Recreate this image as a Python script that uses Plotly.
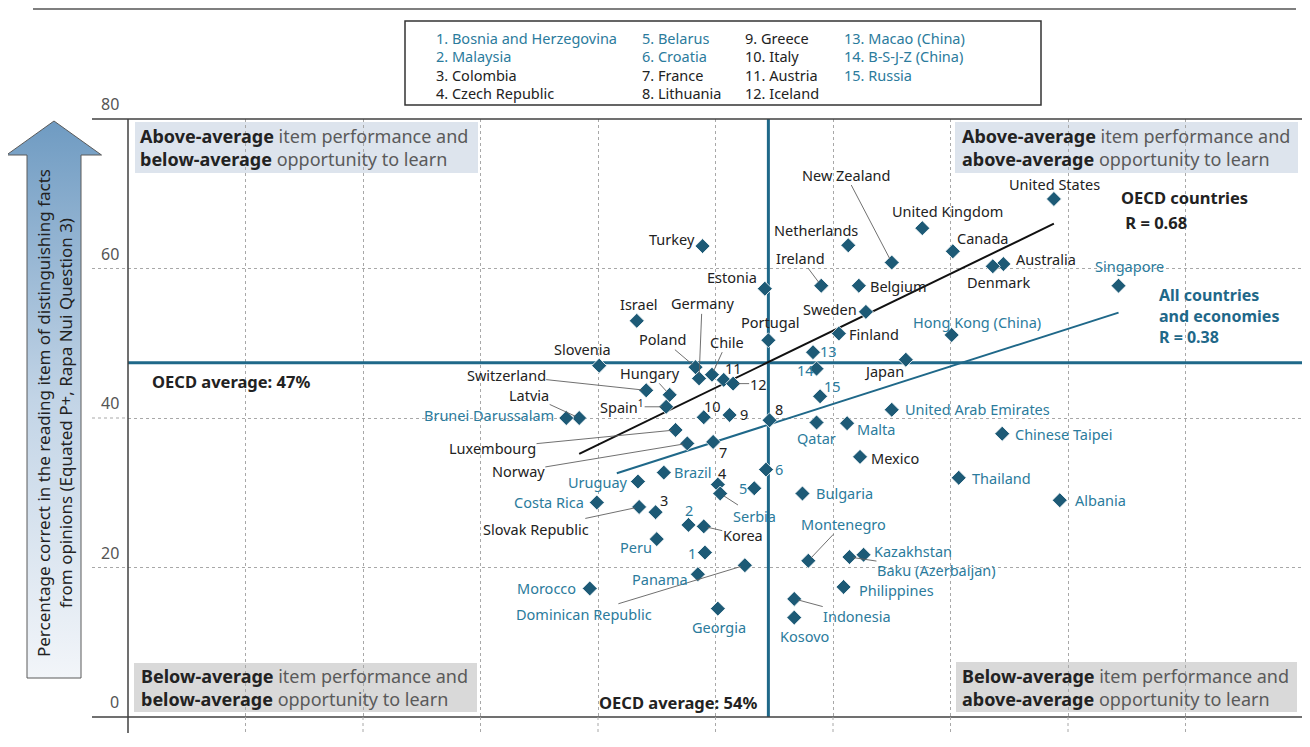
import plotly.graph_objects as go

# ---------------- data ----------------
countries = [
    "United States", "United Kingdom", "New Zealand", "Netherlands", "Canada",
    "Australia", "Denmark", "Ireland", "Belgium", "Sweden", "Finland", "Japan",
    "Turkey", "Estonia", "Israel", "Portugal", "Germany", "Poland", "Chile",
    "Slovenia", "Switzerland", "Hungary", "Latvia", "Spain", "Luxembourg",
    "Norway", "Mexico", "Slovak Republic", "Korea", "Colombia", "Czech Republic",
    "France", "Lithuania", "Greece", "Italy", "Austria", "Iceland",
    "Singapore", "Hong Kong (China)", "Macao (China)", "B-S-J-Z (China)", "Russia",
    "United Arab Emirates", "Qatar", "Malta", "Chinese Taipei", "Brunei Darussalam",
    "Croatia", "Belarus", "Brazil", "Uruguay", "Serbia", "Bulgaria", "Thailand",
    "Albania", "Costa Rica", "Malaysia", "Peru", "Bosnia and Herzegovina",
    "Montenegro", "Kazakhstan", "Baku (Azerbaijan)", "Dominican Republic",
    "Panama", "Philippines", "Morocco", "Indonesia", "Georgia", "Kosovo",
]
# x: opportunity to learn (%), y: percentage correct
otl = [
    78.8, 67.6, 65.0, 61.3, 70.2,
    74.5, 73.6, 59.0, 62.2, 62.8, 60.5, 66.2,
    48.9, 54.2, 43.3, 54.5, 48.6, 48.3, 49.7,
    40.1, 44.1, 46.1, 38.4, 45.8, 46.6,
    47.6, 62.3, 43.5, 49.0, 44.9, 50.2,
    49.8, 54.6, 51.2, 49.0, 50.7, 51.5,
    84.3, 70.1, 58.3, 58.6, 58.9,
    65.0, 58.6, 61.2, 74.4, 37.3,
    54.3, 53.3, 45.6, 43.4, 50.4, 57.4, 70.7,
    79.3, 39.9, 47.7, 45.0, 49.1,
    57.9, 62.6, 61.4, 52.5,
    48.5, 60.9, 39.3, 56.7, 50.2, 56.7,
]
perf = [
    69.3, 65.4, 60.8, 63.1, 62.3,
    60.6, 60.3, 57.7, 57.7, 54.2, 51.3, 47.8,
    63.0, 57.3, 53.0, 50.4, 45.3, 46.8, 45.8,
    47.0, 43.7, 43.1, 40.0, 41.5, 38.4,
    36.6, 34.8, 28.1, 25.5, 27.4, 31.1,
    36.8, 39.7, 40.4, 40.1, 45.1, 44.6,
    57.7, 51.1, 48.8, 46.6, 42.9,
    41.1, 39.4, 39.3, 37.9, 40.0,
    33.1, 30.6, 32.7, 31.5, 29.9, 29.9, 32.0,
    29.0, 28.7, 25.7, 23.8, 22.0,
    20.9, 21.7, 21.4, 20.3,
    19.1, 17.4, 17.2, 15.8, 14.5, 13.3,
]
oecd_members = [
    "United States", "United Kingdom", "New Zealand", "Netherlands", "Canada",
    "Australia", "Denmark", "Ireland", "Belgium", "Sweden", "Finland", "Japan",
    "Turkey", "Estonia", "Israel", "Portugal", "Germany", "Poland", "Chile",
    "Slovenia", "Switzerland", "Hungary", "Latvia", "Spain", "Luxembourg",
    "Norway", "Mexico", "Slovak Republic", "Korea", "Colombia", "Czech Republic",
    "France", "Lithuania", "Greece", "Italy", "Austria", "Iceland",
]
numbered = {
    "Bosnia and Herzegovina": 1, "Malaysia": 2, "Colombia": 3, "Czech Republic": 4,
    "Belarus": 5, "Croatia": 6, "France": 7, "Lithuania": 8,
    "Greece": 9, "Italy": 10, "Austria": 11, "Iceland": 12,
    "Macao (China)": 13, "B-S-J-Z (China)": 14, "Russia": 15,
}
display_names = {"Spain": "Spain<sup>1</sup>"}

oecd_avg_otl = 54.5
oecd_avg_perf = 47.4
oecd_fit_x = [38.4, 78.8]
oecd_fit_y = [35.2, 66.0]
all_fit_x = [41.6, 84.3]
all_fit_y = [32.6, 54.1]

x_ticks = [0, 10, 20, 30, 40, 50, 60, 70, 80, 90, 100]
y_ticks = [0, 20, 40, 60, 80]

# ---------------- layout helpers ----------------
OFF = 8                      # page body margin of the browser
W, H = 1310 - OFF, 747 - OFF
L, R, T, B = 128, 1303, 119, 717   # plot area in screen pixels


def px(v):
    return (v - OFF) / W


def py(v):
    return 1 - (v - OFF) / H


TEAL_TXT = "#2b7b9c"
DARK_TXT = "#222222"
MARK = "#1d5a76"
LINE_TEAL = "#1f6889"
FONT = "Noto Sans"

# label placement: mode, dx, dy (pixels; dy positive = down)
# 'c' centred, 'l' text to the right, 'r' text to the left, 'a' leader line
place = {
    "United States": ("c", 1, -15), "United Kingdom": ("c", 25, -17),
    "New Zealand": ("a", -46, -88), "Netherlands": ("c", -32, -15),
    "Canada": ("l", 3, -13), "Australia": ("l", 12, -5), "Denmark": ("c", 6, 16),
    "Ireland": ("a", -21, -28), "Belgium": ("l", 10, 0), "Sweden": ("r", -8, -3),
    "Finland": ("l", 9, 0), "Japan": ("c", -22, 11), "Turkey": ("r", -7, -7),
    "Estonia": ("r", -7, -12), "Israel": ("c", 2, -17), "Portugal": ("c", 2, -18),
    "Germany": ("a", 3, -75), "Poland": ("a", -33, -28), "Chile": ("a", 15, -33),
    "Slovenia": ("c", -17, -17), "Switzerland": ("a", -140, -15),
    "Hungary": ("a", -20, -22), "Latvia": ("a", -50, -23), "Spain": ("a", -44, 0),
    "Luxembourg": ("a", -183, 18), "Norway": ("a", -169, 28), "Mexico": ("l", 10, 1),
    "Slovak Republic": ("a", -103, 22), "Korea": ("a", 39, 9), "Colombia": ("c", 8, -12),
    "Czech Republic": ("c", 4, -12), "France": ("c", 10, 10), "Lithuania": ("c", 9, -11),
    "Greece": ("c", 14, -1), "Italy": ("c", 9, -11), "Austria": ("c", 10, -12),
    "Iceland": ("a", 25, 0),
    "Singapore": ("c", 11, -20), "Hong Kong (China)": ("c", 25, -13),
    "Macao (China)": ("c", 15, -1), "B-S-J-Z (China)": ("c", -11, 1),
    "Russia": ("c", 12, -10), "United Arab Emirates": ("l", 12, -1),
    "Qatar": ("c", 0, 16), "Malta": ("l", 9, 6), "Chinese Taipei": ("l", 12, 0),
    "Brunei Darussalam": ("r", -11, -3), "Croatia": ("c", 13, -1),
    "Belarus": ("c", -11, 0), "Brazil": ("l", 9, -1), "Uruguay": ("r", -9, 0),
    "Serbia": ("a", 34, 22), "Bulgaria": ("l", 13, -1), "Thailand": ("l", 12, 0),
    "Albania": ("l", 14, 0), "Costa Rica": ("r", -12, 0), "Malaysia": ("c", 1, -15),
    "Peru": ("c", -21, 8), "Bosnia and Herzegovina": ("c", -13, 0),
    "Montenegro": ("a", 35, -37), "Kazakhstan": ("l", 9, -4),
    "Baku (Azerbaijan)": ("a", 87, 13), "Dominican Republic": ("a", -161, 49),
    "Panama": ("r", -9, 5), "Philippines": ("l", 14, 3), "Morocco": ("r", -13, 0),
    "Indonesia": ("a", 63, 17), "Georgia": ("c", 1, 18), "Kosovo": ("c", 10, 18),
}

fig = go.Figure()

# average lines
fig.add_trace(go.Scatter(x=[0, 100], y=[oecd_avg_perf, oecd_avg_perf], mode="lines",
                         line=dict(color=LINE_TEAL, width=3), hoverinfo="skip"))
fig.add_trace(go.Scatter(x=[oecd_avg_otl, oecd_avg_otl], y=[0, 80], mode="lines",
                         line=dict(color=LINE_TEAL, width=3), hoverinfo="skip"))
# regression lines
fig.add_trace(go.Scatter(x=oecd_fit_x, y=oecd_fit_y, mode="lines",
                         line=dict(color="#111111", width=2), hoverinfo="skip"))
fig.add_trace(go.Scatter(x=all_fit_x, y=all_fit_y, mode="lines",
                         line=dict(color=LINE_TEAL, width=2), hoverinfo="skip"))
# markers
fig.add_trace(go.Scatter(x=otl, y=perf, mode="markers", text=countries,
                         marker=dict(symbol="diamond", size=11.5, color=MARK,
                                     line=dict(color="white", width=0.8)),
                         hovertemplate="%{text}<br>%{x}, %{y}<extra></extra>"))

# arrow (y-axis title background) on an auxiliary pixel-space subplot
AUXD = 0.09
arrow_x = [27, 27, 6.5, 54, 101.5, 81, 81, 27]
arrow_y = [678, 155, 155, 121, 155, 155, 678, 678]
fig.add_trace(go.Scatter(
    x=arrow_x, y=arrow_y, xaxis="x2", yaxis="y2", mode="lines", fill="toself",
    line=dict(color="#5a5a5a", width=1),
    fillgradient=dict(type="vertical", start=121, stop=678,
                      colorscale=[[0, "#6f9bc2"], [0.5, "#c2d4e6"], [1, "#f2f5f9"]]),
    hoverinfo="skip"))

annotations = []
shapes = []

# point labels
for name, xv, yv in zip(countries, otl, perf):
    txt = str(numbered[name]) if name in numbered else display_names.get(name, name)
    col = DARK_TXT if name in oecd_members else TEAL_TXT
    mode, dx, dy = place[name]
    fnt = dict(family=FONT, size=14.5, color=col)
    if mode == "a":
        annotations.append(dict(x=xv, y=yv, xref="x", yref="y", text=txt, font=fnt,
                                showarrow=True, arrowhead=0, arrowwidth=0.9,
                                arrowcolor="#606060", ax=dx, ay=dy, standoff=4,
                                borderpad=0))
    else:
        anchor = {"c": "center", "l": "left", "r": "right"}[mode]
        annotations.append(dict(x=xv, y=yv, xref="x", yref="y", text=txt, font=fnt,
                                showarrow=False, xanchor=anchor, yanchor="middle",
                                xshift=dx, yshift=-dy, borderpad=0))

# y tick labels, sitting just above their grid lines
for v in y_ticks:
    annotations.append(dict(x=px(121), y=v, xref="paper", yref="y", text=str(v),
                            showarrow=False, xanchor="right", yanchor="middle", yshift=15,
                            font=dict(family=FONT, size=16, color="#555555")))

# frame lines
frame = [((92, T), (R, T)), ((92, B), (R, B)), ((L, T), (L, 733)), ((R, T), (R, 733))]
for (x0, y0), (x1, y1) in frame:
    shapes.append(dict(type="line", xref="paper", yref="paper", x0=px(x0), y0=py(y0),
                       x1=px(x1), y1=py(y1), line=dict(color="#404040", width=1.5)))
# header rule
shapes.append(dict(type="line", xref="paper", yref="paper", x0=px(33), y0=py(9),
                   x1=px(1296), y1=py(9), line=dict(color="#555555", width=1.5)))
# grid extensions outside plot
for v in y_ticks[1:-1]:
    shapes.append(dict(type="line", xref="paper", yref="y", x0=px(92), x1=px(L), y0=v, y1=v,
                       line=dict(color="#a8a8a8", width=1, dash="dot")))
for v in x_ticks[1:-1]:
    shapes.append(dict(type="line", xref="x", yref="paper", x0=v, x1=v, y0=py(B), y1=py(735),
                       line=dict(color="#a8a8a8", width=1, dash="dot")))

# quadrant boxes
quads = [
    ((135, 122, 478, 173), "#dde4ed", "<b>Above-average</b> item performance and<br><b>below-average</b> opportunity to learn", 138),
    ((955, 122, 1298, 173), "#dde4ed", "<b>Above-average</b> item performance and<br><b>above-average</b> opportunity to learn", 960),
    ((134, 663, 477, 712), "#d9d9d9", "<b>Below-average</b> item performance and<br><b>below-average</b> opportunity to learn", 139),
    ((956, 662, 1297, 712), "#d9d9d9", "<b>Below-average</b> item performance and<br><b>above-average</b> opportunity to learn", 960),
]
for (x0, y0, x1, y1), fillc, txt, tx in quads:
    shapes.append(dict(type="rect", xref="paper", yref="paper", x0=px(x0), y0=py(y0),
                       x1=px(x1), y1=py(y1), fillcolor=fillc, line=dict(width=0), layer="below"))
    txt = txt.replace("<b>", "<b style='color:#222'>")
    annotations.append(dict(x=px(tx), y=py((y0 + y1) / 2), xref="paper", yref="paper",
                            text=txt, showarrow=False, xanchor="left", yanchor="middle",
                            align="left", font=dict(family=FONT, size=18, color="#5a5a5a")))

# legend box for numbered countries
shapes.append(dict(type="rect", xref="paper", yref="paper", x0=px(405), y0=py(21),
                   x1=px(1041), y1=py(105), line=dict(color="#333333", width=1.5),
                   fillcolor="white"))
col_x = [434, 640, 743, 842]
row_y = [38, 56.5, 75, 93]
for name, n in numbered.items():
    col = DARK_TXT if name in oecd_members else TEAL_TXT
    c, r = (n - 1) // 4, (n - 1) % 4
    annotations.append(dict(x=px(col_x[c]), y=py(row_y[r]), xref="paper", yref="paper",
                            text=f"{n}. {name}", showarrow=False, xanchor="left",
                            yanchor="middle", font=dict(family=FONT, size=14.5, color=col)))

# average labels
annotations.append(dict(x=px(150), y=py(381), xref="paper", yref="paper",
                        text=f"<b>OECD average: {round(oecd_avg_perf)}%</b>", showarrow=False,
                        xanchor="left", yanchor="middle",
                        font=dict(family=FONT, size=16.5, color=DARK_TXT)))
annotations.append(dict(x=px(759), y=py(702), xref="paper", yref="paper",
                        text=f"<b>OECD average: {round(oecd_avg_otl)}%</b>", showarrow=False,
                        xanchor="right", yanchor="middle",
                        font=dict(family=FONT, size=16.5, color=DARK_TXT)))

# regression labels
for txt, yy in [("<b>OECD countries</b>", 198), ("<b> R = 0.68</b>", 222)]:
    annotations.append(dict(x=px(1119), y=py(yy), xref="paper", yref="paper", text=txt,
                            showarrow=False, xanchor="left", yanchor="middle",
                            font=dict(family=FONT, size=16.5, color=DARK_TXT)))
annotations.append(dict(x=px(1157), y=py(316), xref="paper", yref="paper",
                        text="<b>All countries<br>and economies<br>R = 0.38</b>",
                        showarrow=False, xanchor="left", yanchor="middle", align="left",
                        font=dict(family=FONT, size=16, color=LINE_TEAL)))

# y-axis title inside the arrow
annotations.append(dict(x=px(54), y=py(413), xref="paper", yref="paper", textangle=-90,
                        text="Percentage correct in the reading item of distinguishing facts<br>"
                             "from opinions (Equated P+, Rapa Nui Question 3)",
                        showarrow=False, xanchor="center", yanchor="middle",
                        font=dict(family=FONT, size=17, color=DARK_TXT)))

fig.update_layout(
    width=W, height=H, margin=dict(l=0, r=0, t=0, b=0),
    paper_bgcolor="white", plot_bgcolor="rgba(0,0,0,0)",
    showlegend=False, font=dict(family=FONT),
    xaxis=dict(domain=[px(L), px(R)], range=[0, 100], tickvals=x_ticks, ticks="",
               showgrid=True, gridcolor="#a8a8a8", griddash="dot", gridwidth=1,
               zeroline=False, showline=False, automargin=False,
               tickfont=dict(family=FONT, size=16, color="#555555"), ticklabelstandoff=28),
    yaxis=dict(domain=[py(B), py(T)], range=[0, 80], tickvals=y_ticks, ticks="",
               showgrid=True, gridcolor="#a8a8a8", griddash="dot", gridwidth=1,
               zeroline=False, showline=False, automargin=False, showticklabels=False),
    xaxis2=dict(domain=[0, AUXD], range=[OFF, OFF + AUXD * W], visible=False, anchor="y2",
                fixedrange=True),
    yaxis2=dict(domain=[0, 1], range=[OFF + H, OFF], visible=False, anchor="x2",
                fixedrange=True),
    annotations=annotations, shapes=shapes,
)

fig.write_html("out.html")
